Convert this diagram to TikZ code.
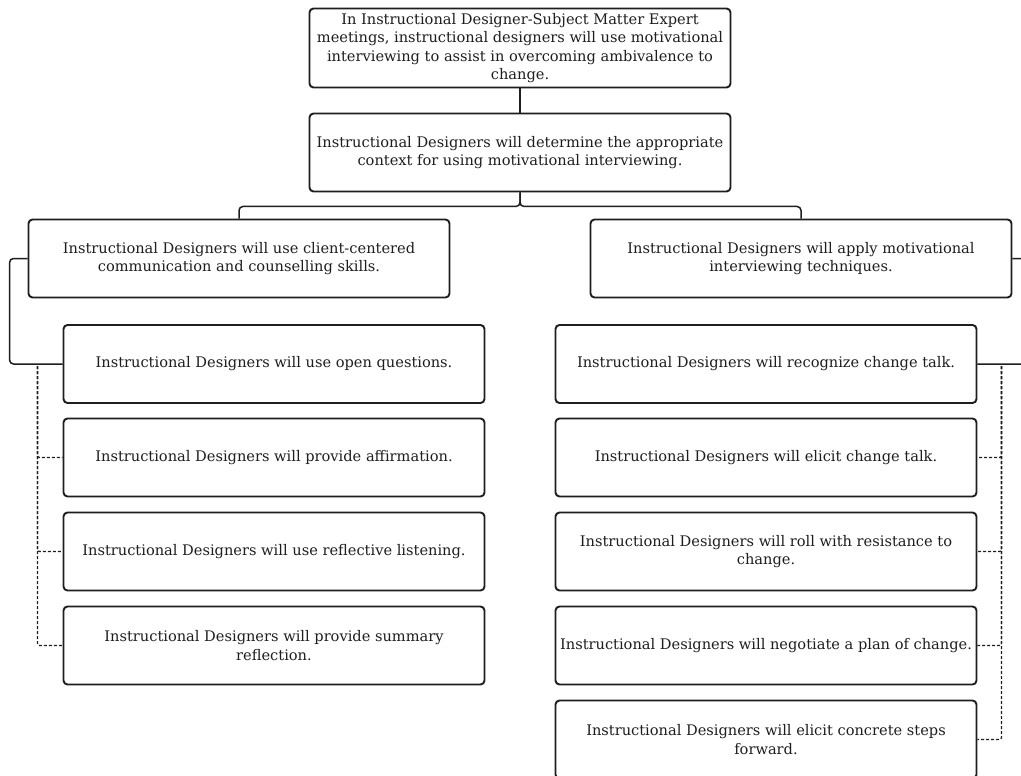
\documentclass[tikz,border=0pt]{standalone}
\usepackage{fontspec}
\setmainfont{DejaVu Serif}
\usetikzlibrary{calc}
\definecolor{ink}{HTML}{1E1E1E}
\begin{document}
\begin{tikzpicture}[x=1pt,y=-1pt,
  box/.style={draw=ink, line width=1.9pt, rounded corners=4pt,
    minimum width=421pt, minimum height=78pt, inner sep=0pt,
    align=center, text=ink, font=\fontsize{14.6}{18.5}\selectfont},
  link/.style={draw=ink, line width=1.5pt, rounded corners=4pt},
  dlink/.style={draw=ink, line width=1.2pt, rounded corners=2pt,
    dash pattern=on 3pt off 2pt}]
\clip (0,0) rectangle (1021,776);
\fill[white] (0,0) rectangle (1021,776);

% goal and context
\node[box, minimum height=79pt] (goal) at (520,48) {In Instructional Designer-Subject Matter Expert\\meetings, instructional designers will use motivational\\interviewing to assist in overcoming ambivalence to\\change.};
\node[box] (ctx) at (520,152.5) {Instructional Designers will determine the appropriate\\context for using motivational interviewing.};

% second level
\node[box] (comm) at (239,258.5) {Instructional Designers will use client-centered\\communication and counselling skills.};
\node[box] (tech) at (801,258.5) {Instructional Designers will apply motivational\\interviewing techniques.};

% communication skills
\node[box] (l1) at (274,364) {Instructional Designers will use open questions.};
\node[box] (l2) at (274,457.5) {Instructional Designers will provide affirmation.};
\node[box] (l3) at (274,551.5) {Instructional Designers will use reflective listening.};
\node[box] (l4) at (274,645.5) {Instructional Designers will provide summary\\reflection.};

% techniques
\node[box] (r1) at (766,364) {Instructional Designers will recognize change talk.};
\node[box] (r2) at (766,457.5) {Instructional Designers will elicit change talk.};
\node[box] (r3) at (766,551.5) {Instructional Designers will roll with resistance to\\change.};
\node[box] (r4) at (766,645.5) {Instructional Designers will negotiate a plan of change.};
\node[box] (r5) at (766,739.5) {Instructional Designers will elicit concrete steps\\forward.};

% tree connectors
\draw[link] (goal) -- (ctx);
\draw[link] (ctx.south) -- ++(0,14) -| (comm.north);
\draw[link] (ctx.south) -- ++(0,14) -| (tech.north);
\draw[link] (comm.west) -- ++(-18,0) |- (l1.west);
\draw[link] (tech.east) -- ++(22,0) |- (r1.east);

\draw[dlink] ([xshift=-25pt,yshift=-2pt]l1.west) |- (l2.west);
\draw[dlink] ([xshift=-25pt,yshift=-2pt]l1.west) |- (l3.west);
\draw[dlink] ([xshift=-25pt,yshift=-2pt]l1.west) |- (l4.west);

\draw[dlink] ([xshift=24pt,yshift=-2pt]r1.east) |- (r2.east);
\draw[dlink] ([xshift=24pt,yshift=-2pt]r1.east) |- (r3.east);
\draw[dlink] ([xshift=24pt,yshift=-2pt]r1.east) |- (r4.east);
\draw[dlink] ([xshift=24pt,yshift=-2pt]r1.east) |- (r5.east);
\end{tikzpicture}
\end{document}
